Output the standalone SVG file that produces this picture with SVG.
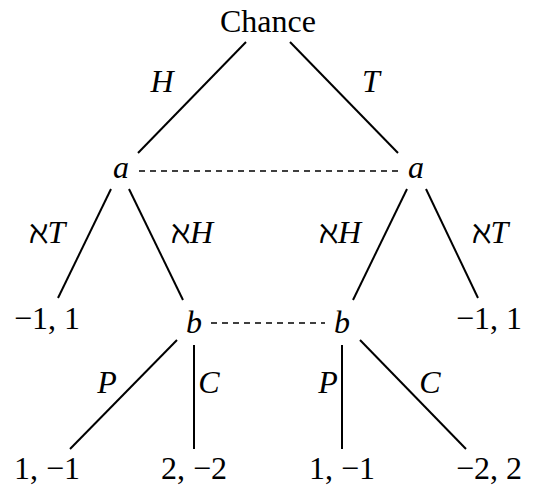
<svg xmlns="http://www.w3.org/2000/svg" width="534" height="488" viewBox="0 0 534 488">
<style>
text{font-family:"Liberation Serif","DejaVu Serif",serif;font-size:32px;fill:#000;text-anchor:middle}
.m{font-style:italic}
.e{stroke:#000;stroke-width:2;fill:none}
.d{stroke:#000;stroke-width:1.3;stroke-dasharray:6 5;fill:none}
</style>
<rect width="534" height="488" fill="#fff"/>
<g id="connectors">
<line class="e" x1="246" y1="42" x2="138" y2="153"/>
<line class="e" x1="290" y1="42" x2="398" y2="153"/>
<line class="d" x1="139" y1="171" x2="398" y2="171"/>
<line class="e" x1="111" y1="189" x2="58" y2="298"/>
<line class="e" x1="129" y1="189" x2="183" y2="300"/>
<line class="e" x1="407" y1="189" x2="353" y2="300"/>
<line class="e" x1="426" y1="189" x2="478" y2="298"/>
<line class="d" x1="211" y1="323" x2="325" y2="323"/>
<line class="e" x1="177" y1="340" x2="70" y2="449"/>
<line class="e" x1="194" y1="345" x2="194" y2="449"/>
<line class="e" x1="342" y1="345" x2="342" y2="449"/>
<line class="e" x1="360" y1="340" x2="466" y2="449"/>
<text class="m" x="162" y="92">H</text>
<text class="m" x="371" y="92">T</text>
<text x="47" y="243"><tspan>ℵ</tspan><tspan class="m">T</tspan></text>
<text x="192" y="243"><tspan>ℵ</tspan><tspan class="m">H</tspan></text>
<text x="340" y="243"><tspan>ℵ</tspan><tspan class="m">H</tspan></text>
<text x="490" y="243"><tspan>ℵ</tspan><tspan class="m">T</tspan></text>
<text class="m" x="107" y="393">P</text>
<text class="m" x="209" y="393">C</text>
<text class="m" x="328" y="393">P</text>
<text class="m" x="430" y="393">C</text>
</g>
<g id="chance"><text x="268" y="32">Chance</text></g>
<g id="a1"><text class="m" x="121" y="178">a</text></g>
<g id="a2"><text class="m" x="416" y="178">a</text></g>
<g id="leaf1"><text x="47" y="329">−1, 1</text></g>
<g id="b1"><text class="m" x="194" y="333">b</text></g>
<g id="b2"><text class="m" x="342" y="333">b</text></g>
<g id="leaf2"><text x="489" y="329">−1, 1</text></g>
<g id="leaf3"><text x="47" y="479">1, −1</text></g>
<g id="leaf4"><text x="194" y="479">2, −2</text></g>
<g id="leaf5"><text x="342" y="479">1, −1</text></g>
<g id="leaf6"><text x="489" y="479">−2, 2</text></g>
</svg>
